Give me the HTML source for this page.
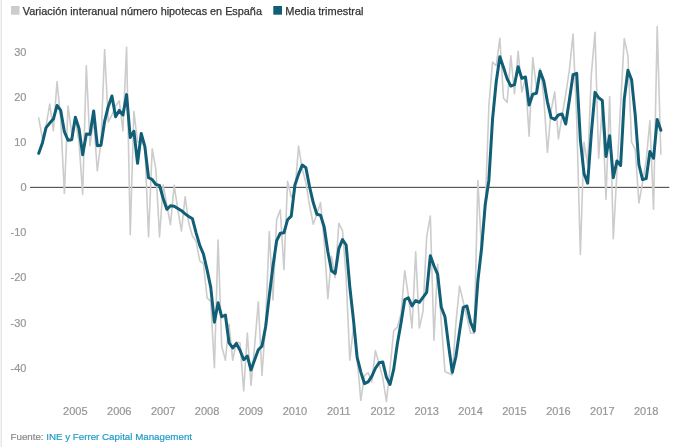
<!DOCTYPE html>
<html><head><meta charset="utf-8"><style>
html,body{margin:0;padding:0;background:#fff;}
body{width:680px;height:447px;overflow:hidden;position:relative;font-family:"Liberation Sans",sans-serif;}
svg{position:absolute;left:0;top:0;will-change:transform;}
.lg{font-size:10.85px;fill:#333;stroke:#333;stroke-width:0.25px;}
.ax{font-size:11px;fill:#969696;stroke:#969696;stroke-width:0.2px;}
.src{font-size:9.75px;stroke-width:0.2px;}
</style></head><body>
<svg width="680" height="447" viewBox="0 0 680 447">
<rect x="0" y="0" width="1" height="447" fill="#f4f4f4"/><rect x="1" y="0" width="1" height="447" fill="#e6e6e6"/>
<rect x="11" y="6" width="8.5" height="8.7" fill="#cccccc"/>
<text class="lg" x="22.8" y="14.6">Variación interanual número hipotecas en España</text>
<rect x="273.3" y="6" width="8.7" height="8.7" fill="#115f77"/>
<text class="lg" x="285.3" y="14.6" style="font-size:11px">Media trimestral</text>
<g class="ax"><text x="26.5" y="55.65" text-anchor="end">30</text><text x="26.5" y="100.80" text-anchor="end">20</text><text x="26.5" y="145.95" text-anchor="end">10</text><text x="26.5" y="191.10" text-anchor="end">0</text><text x="26.5" y="236.25" text-anchor="end">-10</text><text x="26.5" y="281.40" text-anchor="end">-20</text><text x="26.5" y="326.55" text-anchor="end">-30</text><text x="26.5" y="371.70" text-anchor="end">-40</text></g>
<g class="ax"><text x="75.35" y="415.0" text-anchor="middle">2005</text><text x="119.26" y="415.0" text-anchor="middle">2006</text><text x="163.18" y="415.0" text-anchor="middle">2007</text><text x="207.09" y="415.0" text-anchor="middle">2008</text><text x="251.01" y="415.0" text-anchor="middle">2009</text><text x="294.92" y="415.0" text-anchor="middle">2010</text><text x="338.83" y="415.0" text-anchor="middle">2011</text><text x="382.75" y="415.0" text-anchor="middle">2012</text><text x="426.66" y="415.0" text-anchor="middle">2013</text><text x="470.58" y="415.0" text-anchor="middle">2014</text><text x="514.49" y="415.0" text-anchor="middle">2015</text><text x="558.40" y="415.0" text-anchor="middle">2016</text><text x="602.32" y="415.0" text-anchor="middle">2017</text><text x="646.23" y="415.0" text-anchor="middle">2018</text></g>
<line x1="30" y1="187.35" x2="669.3" y2="187.35" stroke="#3a3a3a" stroke-width="1"/>
<path d="M38.75,118.12 L42.41,138.44 L46.07,126.25 L49.73,104.12 L53.39,130.76 L57.05,81.55 L60.71,119.47 L64.37,193.52 L68.03,105.93 L71.69,133.02 L75.35,119.47 L79.01,142.05 L82.67,194.42 L86.33,65.75 L89.99,145.66 L93.65,119.47 L97.31,170.95 L100.97,142.05 L104.63,49.49 L108.29,122.18 L111.94,114.96 L115.60,105.93 L119.26,100.96 L122.92,130.76 L126.58,47.23 L130.24,234.61 L133.90,111.35 L137.56,142.05 L141.22,142.05 L144.88,146.56 L148.54,236.86 L152.20,148.82 L155.86,169.14 L159.52,236.86 L163.18,184.94 L166.84,205.26 L170.50,224.67 L174.16,185.39 L177.82,209.77 L181.48,231.00 L185.13,196.68 L188.79,223.32 L192.45,235.96 L196.11,241.38 L199.77,260.79 L203.43,263.50 L207.09,297.82 L210.75,301.43 L214.41,367.80 L218.07,240.03 L221.73,346.58 L225.39,360.12 L229.05,324.00 L232.71,360.12 L236.37,342.06 L240.03,342.97 L243.69,390.83 L247.35,333.03 L251.01,385.41 L254.67,345.22 L258.32,301.88 L261.98,375.48 L265.64,322.65 L269.30,231.45 L272.96,300.07 L276.62,219.71 L280.28,209.77 L283.94,269.82 L287.60,181.33 L291.26,197.13 L294.92,191.71 L298.58,146.11 L302.24,169.14 L305.90,182.69 L309.56,205.26 L313.22,224.22 L316.88,214.29 L320.54,202.55 L324.20,241.38 L327.86,298.72 L331.51,256.28 L335.17,277.50 L338.83,223.32 L342.49,230.54 L346.15,277.50 L349.81,360.12 L353.47,327.16 L357.13,358.77 L360.79,400.31 L364.45,375.48 L368.11,372.77 L371.77,381.80 L375.43,350.64 L379.09,363.74 L382.75,377.73 L386.41,401.66 L390.07,367.80 L393.73,330.78 L397.39,327.16 L401.05,313.62 L404.71,270.73 L408.36,295.56 L412.02,328.07 L415.68,251.76 L419.34,328.07 L423.00,311.36 L426.66,236.86 L430.32,216.10 L433.98,340.26 L437.64,264.41 L441.30,322.65 L444.96,371.41 L448.62,373.22 L452.28,375.02 L455.94,322.65 L459.60,286.08 L463.26,301.88 L466.92,317.23 L470.58,333.03 L474.24,333.49 L477.89,180.43 L481.55,250.41 L485.21,209.77 L488.87,105.93 L492.53,62.13 L496.19,65.75 L499.85,38.21 L503.51,98.25 L507.17,102.32 L510.83,55.81 L514.49,93.74 L518.15,51.30 L521.81,91.93 L525.47,78.84 L529.13,136.18 L532.79,57.62 L536.45,87.87 L540.11,68.46 L543.77,96.90 L547.43,152.43 L551.09,110.44 L554.74,91.93 L558.40,138.89 L562.06,115.86 L565.72,94.64 L569.38,69.81 L573.04,34.14 L576.70,119.47 L580.36,254.47 L584.02,142.05 L587.68,164.62 L591.34,74.33 L595.00,32.34 L598.66,158.30 L602.32,105.93 L605.98,199.39 L609.64,96.45 L613.30,238.67 L616.96,171.85 L620.62,105.03 L624.27,38.66 L627.93,55.81 L631.59,142.05 L635.25,149.27 L638.91,203.00 L642.57,182.69 L646.23,160.11 L649.89,120.83 L653.55,209.32 L657.21,26.47 L660.87,154.24" fill="none" stroke="#cccccc" stroke-width="1.6" stroke-linejoin="round" stroke-linecap="round"/>
<path d="M38.75,153.34 L42.41,142.95 L46.07,127.60 L49.73,123.09 L53.39,119.02 L57.05,105.48 L60.71,110.44 L64.37,131.67 L68.03,140.24 L71.69,139.79 L75.35,117.22 L79.01,128.50 L82.67,154.69 L86.33,133.92 L89.99,134.37 L93.65,110.90 L97.31,145.66 L100.97,145.21 L104.63,121.28 L108.29,106.38 L111.94,96.00 L115.60,116.77 L119.26,110.44 L122.92,114.96 L126.58,94.64 L130.24,137.53 L133.90,131.21 L137.56,163.27 L141.22,133.47 L144.88,146.56 L148.54,177.72 L152.20,179.52 L155.86,184.49 L159.52,185.39 L163.18,198.49 L166.84,209.32 L170.50,205.71 L174.16,206.16 L177.82,208.42 L181.48,210.68 L185.13,213.84 L188.79,216.55 L192.45,218.80 L196.11,232.80 L199.77,245.44 L203.43,254.02 L207.09,269.82 L210.75,287.43 L214.41,322.20 L218.07,302.78 L221.73,316.78 L225.39,314.97 L229.05,342.97 L232.71,347.93 L236.37,343.42 L240.03,350.19 L243.69,359.67 L247.35,356.06 L251.01,370.06 L254.67,359.67 L258.32,349.74 L261.98,346.13 L265.64,326.71 L269.30,295.56 L272.96,266.21 L276.62,240.93 L280.28,233.25 L283.94,232.80 L287.60,219.71 L291.26,216.10 L294.92,184.94 L298.58,174.11 L302.24,165.08 L305.90,167.79 L309.56,186.75 L313.22,202.55 L316.88,214.29 L320.54,215.19 L324.20,226.93 L327.86,251.76 L331.51,270.73 L335.17,273.44 L338.83,248.60 L342.49,239.57 L346.15,244.99 L349.81,286.98 L353.47,319.94 L357.13,357.42 L360.79,371.86 L364.45,383.60 L368.11,381.80 L371.77,376.38 L375.43,368.25 L379.09,362.83 L382.75,361.93 L386.41,377.28 L390.07,384.51 L393.73,369.15 L397.39,343.42 L401.05,322.65 L404.71,299.62 L408.36,297.82 L412.02,305.94 L415.68,300.53 L419.34,302.33 L423.00,297.37 L426.66,292.40 L430.32,255.83 L433.98,265.76 L437.64,274.34 L441.30,307.30 L444.96,316.78 L448.62,345.68 L452.28,372.31 L455.94,356.51 L459.60,331.23 L463.26,307.30 L466.92,305.94 L470.58,322.20 L474.24,331.23 L477.89,280.66 L481.55,248.60 L485.21,204.81 L488.87,180.43 L492.53,119.47 L496.19,82.00 L499.85,56.72 L503.51,67.55 L507.17,78.84 L510.83,86.06 L514.49,84.71 L518.15,66.65 L521.81,78.39 L525.47,77.03 L529.13,105.03 L532.79,94.19 L536.45,93.29 L540.11,71.16 L543.77,81.10 L547.43,101.87 L551.09,117.67 L554.74,119.47 L558.40,114.96 L562.06,114.06 L565.72,123.99 L569.38,100.06 L573.04,74.78 L576.70,73.42 L580.36,139.79 L584.02,173.66 L587.68,183.14 L591.34,133.02 L595.00,92.38 L598.66,97.80 L602.32,100.51 L605.98,156.50 L609.64,135.73 L613.30,177.72 L616.96,161.01 L620.62,165.53 L624.27,99.16 L627.93,70.26 L631.59,79.74 L635.25,115.41 L638.91,164.62 L642.57,179.52 L646.23,178.62 L649.89,151.53 L653.55,158.30 L657.21,119.47 L660.87,130.31" fill="none" stroke="#115f77" stroke-width="3" stroke-linejoin="round" stroke-linecap="round"/>
<text class="src" x="10.5" y="440"><tspan fill="#888" stroke="#888">Fuente: </tspan><tspan fill="#1d9cc8" stroke="#1d9cc8">INE y Ferrer Capital Management</tspan></text>
</svg>
</body></html>
